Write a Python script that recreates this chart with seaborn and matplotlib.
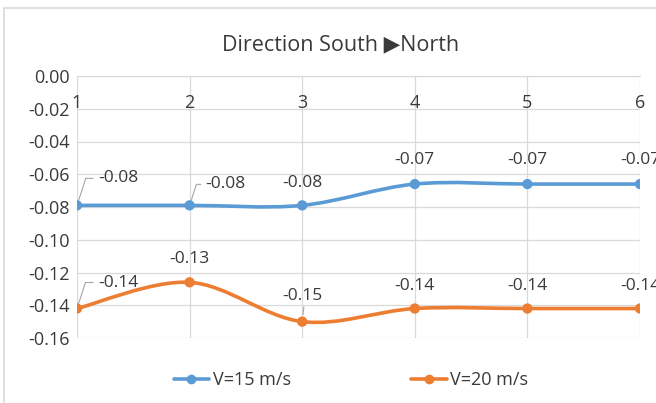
"""Smoothed line chart of two wind speeds, direction south to north."""
import matplotlib
matplotlib.use('Agg')
import matplotlib.pyplot as plt
import seaborn as sns
import pandas as pd
from matplotlib.path import Path
from matplotlib.patches import PathPatch, Rectangle
from matplotlib.lines import Line2D

positions = [1, 2, 3, 4, 5, 6]
v15 = [-0.079, -0.079, -0.079, -0.066, -0.066, -0.066]
v20 = [-0.142, -0.126, -0.150, -0.142, -0.142, -0.142]
series_names = ['V=15 m/s', 'V=20 m/s']
y_ticks = [0.00, -0.02, -0.04, -0.06, -0.08, -0.10, -0.12, -0.14, -0.16]
title = 'Direction South \u25b6North'

colors = ['#5B9BD5', '#ED7D31']
txt_col = '#3A3A3A'
# label offsets in pixels (dx, dy) and whether Excel drew a leader line
offsets_15 = [(41, 27, True), (36, 21, True), (0, 22, False),
              (0, 24, False), (0, 24, False), (0, 24, False)]
offsets_20 = [(41, 26, True), (0, 23, False), (0, 26, True),
              (0, 23, False), (0, 23, False), (0, 23, False)]

df = pd.DataFrame({'pos': positions * 2,
                   'value': v15 + v20,
                   'series': [series_names[0]] * 6 + [series_names[1]] * 6})

sns.set_style('white')
plt.rcParams['font.family'] = ['Open Sans', 'DejaVu Sans']

fig = plt.figure(figsize=(6.56, 4.03), dpi=100)
ax = fig.add_axes([77 / 656, 1 - 338 / 403, (640 - 77) / 656, (338 - 76) / 403])

# outer chart border
fig.patches.append(Rectangle((4 / 656, -0.05), 1.1, 1 - 8 / 403 + 0.05,
                             transform=fig.transFigure, fill=False,
                             edgecolor='#D9D9D9', lw=1.2, zorder=0))


def smooth_path(xs, ys):
    # Excel-style smoothing: Catmull-Rom as cubic Bezier segments
    pts = list(zip(xs, ys))
    verts = [pts[0]]
    codes = [Path.MOVETO]
    n = len(pts)
    for i in range(n - 1):
        p0 = pts[max(i - 1, 0)]
        p1 = pts[i]
        p2 = pts[i + 1]
        p3 = pts[min(i + 2, n - 1)]
        c1 = (p1[0] + (p2[0] - p0[0]) / 6, p1[1] + (p2[1] - p0[1]) / 6)
        c2 = (p2[0] - (p3[0] - p1[0]) / 6, p2[1] - (p3[1] - p1[1]) / 6)
        verts += [c1, c2, p2]
        codes += [Path.CURVE4] * 3
    return Path(verts, codes)


for name, vals, col in zip(series_names, [v15, v20], colors):
    ax.add_patch(PathPatch(smooth_path(positions, vals), fill=False,
                           edgecolor=col, lw=2.6, capstyle='round', zorder=3))

sns.scatterplot(data=df, x='pos', y='value', hue='series', palette=colors,
                s=55, edgecolor='none', legend=False, ax=ax, zorder=4)

for vals, offs in [(v15, offsets_15), (v20, offsets_20)]:
    for x, y, (dx, dy, leader) in zip(positions, vals, offs):
        txt = f'{y:.2f}'
        kw = dict(xytext=(dx, dy), textcoords='offset pixels', ha='center',
                  va='center', fontsize=12.5, color=txt_col, annotation_clip=False)
        if leader and dx > 0:
            kw['arrowprops'] = dict(arrowstyle='-', color='#A6A6A6', lw=0.8,
                                    shrinkA=1, shrinkB=3, relpos=(0, 0.5),
                                    connectionstyle='angle,angleA=0,angleB=72,rad=0')
        elif leader:
            kw['arrowprops'] = dict(arrowstyle='-', color='#A6A6A6', lw=0.8,
                                    shrinkA=0, shrinkB=5, relpos=(0.55, 0))
        ax.annotate(txt, (x, y), **kw)

ax.set_xlim(1, 6)
ax.set_ylim(-0.16, 0.0)
ax.set_yticks(y_ticks)
ax.set_yticklabels([f'{t:.2f}' for t in y_ticks])
ax.set_xticks(positions)
ax.set_xticklabels([str(p) for p in positions])
ax.xaxis.tick_top()
ax.tick_params(axis='x', length=0, pad=-26, labelsize=13, labelcolor=txt_col)
ax.tick_params(axis='y', length=0, pad=5, labelsize=13, labelcolor=txt_col)
ax.grid(True, color='#D9D9D9', lw=0.9)
ax.set_axisbelow(True)
for side in ['left', 'right', 'bottom']:
    ax.spines[side].set_visible(False)
ax.spines['top'].set_color('#D9D9D9')
ax.set_xlabel('')
ax.set_ylabel('')

fig.text(341 / 656, 1 - 45 / 403, title, ha='center', va='center',
         fontsize=15.5, color=txt_col)

handles = [Line2D([], [], color=c, lw=2.6, marker='o', markersize=7,
                  markeredgecolor='none') for c in colors]
fig.legend(handles, series_names, loc='center', bbox_to_anchor=(351 / 656, 1 - 380 / 403),
           ncol=2, frameon=False, fontsize=13, handlelength=1.95,
           columnspacing=6.7, handletextpad=0.2, labelcolor=txt_col)

fig.savefig('out.png', dpi=100)
